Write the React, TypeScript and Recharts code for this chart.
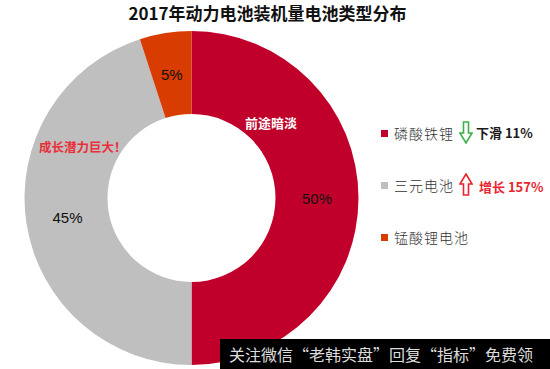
import { PieChart, Pie, Cell, Legend } from 'recharts';

const categories = ['磷酸铁锂', '三元电池', '锰酸锂电池'];
const shares = [50, 45, 5];
const colors = ['#C0002B', '#BFBFBF', '#D93C00'];
const trends = [
  { text: '下滑 11%', dir: 'down', color: '#1a1a1a', arrow: '#3DB04B' },
  { text: '增长 157%', dir: 'up', color: '#E8262F', arrow: '#E8262F' },
  null,
];

const chartData = categories.map((name, i) => ({ name, value: shares[i] }));

const RAD = Math.PI / 180;

function renderLabel(props: any) {
  const { cx, cy, midAngle, innerRadius, outerRadius, value } = props;
  const r = (innerRadius + outerRadius) / 2;
  const x = cx + r * Math.cos(-midAngle * RAD);
  const y = cy + r * Math.sin(-midAngle * RAD);
  return (
    <text
      x={x}
      y={y}
      textAnchor="middle"
      dominantBaseline="central"
      fill="#111"
      fontSize={15}
      fontFamily="'Liberation Sans', Arial, sans-serif"
    >
      {`${value}%`}
    </text>
  );
}

function Arrow({ dir, color }: { dir: string; color: string }) {
  const d =
    dir === 'down'
      ? 'M4.5,1 L9.5,1 L9.5,12 L13,12 L7,22 L1,12 L4.5,12 Z'
      : 'M4.5,22 L9.5,22 L9.5,11 L13,11 L7,1 L1,11 L4.5,11 Z';
  return (
    <svg width={14} height={23} style={{ display: 'block' }}>
      <path d={d} fill="#fff" stroke={color} strokeWidth={1.6} />
    </svg>
  );
}

function LegendContent(props: any) {
  const payload = [...(props.payload || [])].sort(
    (a: any, b: any) => categories.indexOf(a.value) - categories.indexOf(b.value)
  );
  return (
    <div>
      {payload.map((entry: any) => {
        const i = categories.indexOf(entry.value);
        const t = trends[i];
        return (
          <div
            key={`legend-${i}`}
            style={{ position: 'relative', height: 52, display: 'flex', alignItems: 'center' }}
          >
            <span
              style={{ width: 7, height: 7, background: colors[i], display: 'inline-block', marginRight: 6 }}
            />
            <span
              style={{
                fontSize: 14,
                letterSpacing: 1,
                color: '#333',
                fontFamily: "'Noto Sans CJK SC', sans-serif",
                fontWeight: 300,
              }}
            >
              {entry.value}
            </span>
            {t && (
              <div style={{ position: 'absolute', left: 78, top: 14, display: 'flex', alignItems: 'center' }}>
                <Arrow dir={t.dir} color={t.arrow} />
                <span
                  style={{
                    marginLeft: t.dir === 'down' ? 3 : 6,
                    marginTop: t.dir === 'down' ? 0 : 4,
                    fontSize: 13,
                    fontWeight: 700,
                    color: t.color,
                    fontFamily: "'Noto Sans CJK SC', sans-serif",
                  }}
                >
                  {t.text}
                </span>
              </div>
            )}
          </div>
        );
      })}
    </div>
  );
}

export default function App() {
  return (
    <div
      style={{
        position: 'absolute',
        left: 0,
        top: 0,
        width: 550,
        height: 369,
        background: '#fff',
        overflow: 'hidden',
        fontFamily: "'Noto Sans CJK SC', sans-serif",
      }}
    >
      <div
        style={{
          position: 'absolute',
          left: 0,
          width: 535,
          top: 2,
          textAlign: 'center',
          fontSize: 17,
          fontWeight: 700,
          color: '#111',
          lineHeight: '22px',
        }}
      >
        2017年动力电池装机量电池类型分布
      </div>
      <PieChart width={550} height={369} margin={{ top: 0, right: 0, bottom: 0, left: 0 }}>
        <Pie
          data={chartData}
          dataKey="value"
          nameKey="name"
          cx={191.5}
          cy={198}
          innerRadius={84}
          outerRadius={167}
          startAngle={90}
          endAngle={-270}
          stroke="none"
          label={renderLabel}
          labelLine={false}
          isAnimationActive={false}
        >
          {chartData.map((entry, index) => (
            <Cell key={`cell-${index}`} fill={colors[index]} />
          ))}
        </Pie>
        <Legend
          layout="vertical"
          align="right"
          verticalAlign="top"
          content={<LegendContent />}
          wrapperStyle={{ position: 'absolute', left: 381, top: 107, width: 170 }}
        />
      </PieChart>
      <div
        style={{
          position: 'absolute',
          left: 245,
          top: 114,
          fontSize: 13,
          fontWeight: 700,
          color: '#fff',
          lineHeight: '18px',
        }}
      >
        前途暗淡
      </div>
      <div
        style={{
          position: 'absolute',
          left: 39,
          top: 138,
          fontSize: 12.5,
          fontWeight: 700,
          color: '#E8303A',
          lineHeight: '18px',
        }}
      >
        成长潜力巨大！
      </div>
      <div
        style={{
          position: 'absolute',
          left: 220,
          top: 339,
          width: 330,
          height: 30,
          background: '#000',
          color: '#ddd',
          fontSize: 16,
          lineHeight: '30px',
          paddingLeft: 9,
          boxSizing: 'border-box',
          whiteSpace: 'nowrap',
        }}
      >
        关注微信“老韩实盘”回复“指标”免费领
      </div>
    </div>
  );
}
